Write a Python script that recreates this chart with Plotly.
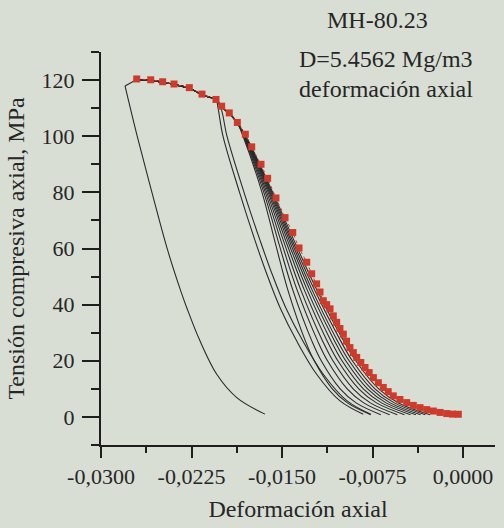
import plotly.graph_objects as go

# Red envelope curve (square markers): axial strain vs compressive stress, MPa
env_strain = [-0.02704, -0.02588, -0.02489, -0.02395, -0.02268, -0.02163, -0.02047,
              -0.02000, -0.01937, -0.01870, -0.01804, -0.01751, -0.01674, -0.01619,
              -0.01550, -0.01475, -0.01411, -0.01359, -0.01295, -0.01254, -0.01213,
              -0.01185, -0.01158, -0.01130, -0.01102, -0.01075, -0.01047, -0.01020,
              -0.00992, -0.00965, -0.00937, -0.00909, -0.00881, -0.00847, -0.00812,
              -0.00778, -0.00743, -0.00702, -0.00661, -0.00620, -0.00578, -0.00523,
              -0.00467, -0.00412, -0.00356, -0.00301, -0.00246, -0.00190, -0.00135,
              -0.00087, -0.00039]
env_stress = [120.4, 120.1, 119.4, 118.6, 117.3, 115.0, 113.1,
              110.7, 108.3, 104.9, 100.7, 96.2, 90.0, 85.0,
              78.0, 71.0, 65.7, 60.2, 55.1, 51.0, 47.4,
              44.5, 41.4, 40.0, 38.5, 36.0, 33.7, 31.5,
              29.5, 27.0, 24.7, 22.9, 21.2, 19.4, 17.6,
              15.8, 14.0, 12.2, 10.5, 9.0, 7.5, 6.2,
              5.1, 4.1, 3.3, 2.6, 2.1, 1.6, 1.2,
              1.0, 0.95]

# Upper segment shared by the black curves before they branch off
cap_strain = [-0.02704, -0.02588, -0.02489, -0.02395, -0.02268, -0.02163, -0.02047,
              -0.02000, -0.01937, -0.01870]
cap_stress = [120.2, 119.9, 119.2, 118.4, 117.1, 114.8, 112.9,
              110.5, 108.1, 104.7]

# First (leftmost) curve, starting just left of the peak
a_strain = [-0.02801, -0.02700, -0.02578, -0.02447, -0.02340,
            -0.02290, -0.02180, -0.02041, -0.01875, -0.01641]
a_stress = [117.9, 100.0, 80.0, 59.3, 45.0,
            39.0, 27.1, 15.2, 6.9, 1.0]

# Two curves branching near 110 MPa
pair_stress = [110, 100, 80, 62.9, 51, 39, 27.1, 15.2, 5.7, 0.95]
b_strain = [-0.02030, -0.01989, -0.01852, -0.01724, -0.01627, -0.01517,
            -0.01379, -0.01213, -0.01019, -0.00826]
c_strain = [-0.02006, -0.01956, -0.01815, -0.01682, -0.01583, -0.01470,
            -0.01328, -0.01158, -0.00960, -0.00764]

# Bundle of curves branching near 100 MPa
bundle_stress = [100, 80, 61, 45, 27, 20, 10, 5, 0.8]
bundle_strains = [
    [-0.01823, -0.01666, -0.01550, -0.01450, -0.01306, -0.01233, -0.01083, -0.00958, -0.00765],
    [-0.01819, -0.01651, -0.01521, -0.01409, -0.01252, -0.01175, -0.01018, -0.00886, -0.00681],
    [-0.01815, -0.01638, -0.01496, -0.01373, -0.01204, -0.01123, -0.00960, -0.00823, -0.00608],
    [-0.01812, -0.01626, -0.01474, -0.01342, -0.01163, -0.01078, -0.00910, -0.00768, -0.00544],
    [-0.01809, -0.01615, -0.01454, -0.01313, -0.01125, -0.01037, -0.00864, -0.00717, -0.00485],
    [-0.01807, -0.01606, -0.01437, -0.01289, -0.01093, -0.01003, -0.00826, -0.00675, -0.00435],
    [-0.01804, -0.01598, -0.01422, -0.01267, -0.01064, -0.00972, -0.00791, -0.00637, -0.00391],
    [-0.01803, -0.01591, -0.01408, -0.01248, -0.01039, -0.00944, -0.00760, -0.00603, -0.00352],
    [-0.01800, -0.01584, -0.01395, -0.01228, -0.01013, -0.00917, -0.00730, -0.00569, -0.00312],
    [-0.01799, -0.01577, -0.01381, -0.01209, -0.00988, -0.00889, -0.00699, -0.00535, -0.00273],
]

x_tickvals = [-0.0300, -0.0225, -0.0150, -0.0075, 0.0000]
x_ticktext = ["-0,0300", "-0,0225", "-0,0150", "-0,0075", "0,0000"]
y_tickvals = [0, 20, 40, 60, 80, 100, 120]
y_ticktext = ["0", "20", "40", "60", "80", "100", "120"]

title_lines = ["MH-80.23", "D=5.4562 Mg/m3", "deformación axial"]

BG = "#d9ded5"
INK = "#262626"
LINE = "#2a2a2a"
RED = "#cc3b2b"
FONT = "Liberation Serif, Times New Roman, Times, serif"

fig = go.Figure()

line_style = dict(color=LINE, width=1.1, shape="spline", smoothing=1)

# short straight link from the peak to the start of the first curve
fig.add_trace(go.Scatter(x=[cap_strain[0], a_strain[0]], y=[cap_stress[0], a_stress[0]],
                         mode="lines", line=dict(color=LINE, width=1.1),
                         hoverinfo="skip", showlegend=False))
fig.add_trace(go.Scatter(x=a_strain, y=a_stress, mode="lines", line=line_style,
                         hoverinfo="skip", showlegend=False))

for strains in (b_strain, c_strain):
    xs = cap_strain[:7] + strains
    ys = cap_stress[:7] + pair_stress
    fig.add_trace(go.Scatter(x=xs, y=ys, mode="lines", line=line_style,
                             hoverinfo="skip", showlegend=False))

for strains in bundle_strains:
    xs = cap_strain + strains
    ys = cap_stress + bundle_stress
    fig.add_trace(go.Scatter(x=xs, y=ys, mode="lines", line=line_style,
                             hoverinfo="skip", showlegend=False))

fig.add_trace(go.Scatter(
    x=env_strain, y=env_stress, mode="lines+markers",
    line=dict(color=RED, width=1, dash="dot"),
    marker=dict(symbol="square", size=7, color=RED, line=dict(width=0)),
    showlegend=False,
))

axis_common = dict(
    showline=True, linecolor="#1e1e1e", linewidth=2,
    ticks="outside", tickwidth=2, tickcolor="#1e1e1e",
    showgrid=False, zeroline=False,
    tickfont=dict(family=FONT, size=22, color=INK),
    title_font=dict(family=FONT, size=24, color=INK),
)

fig.update_xaxes(
    range=[-0.0300, 0.00265],
    tickvals=x_tickvals, ticktext=x_ticktext, ticklen=11,
    minor=dict(ticks="outside", tick0=-0.0300, dtick=0.00375, ticklen=6,
               tickwidth=2, tickcolor="#1e1e1e"),
    title=dict(text="Deformación axial", standoff=12),
    **axis_common,
)
fig.update_yaxes(
    range=[-10, 130],
    tickvals=y_tickvals, ticktext=y_ticktext, ticklen=17,
    ticklabelstandoff=3,
    minor=dict(ticks="outside", tick0=0, dtick=10, ticklen=8,
               tickwidth=2, tickcolor="#1e1e1e"),
    title=dict(text="Tensión compresiva axial, MPa", standoff=10),
    **axis_common,
)

label_pos = [(0.703, 1.081), (0.723, 0.982), (0.723, 0.906)]
for text, (px, py) in zip(title_lines, label_pos):
    fig.add_annotation(text=text, x=px, y=py, xref="paper", yref="paper",
                       showarrow=False, xanchor="center", yanchor="middle",
                       font=dict(family=FONT, size=24, color=INK))

fig.update_layout(
    width=504, height=528,
    margin=dict(l=101, r=9, t=52, b=83),
    paper_bgcolor=BG, plot_bgcolor=BG,
)

fig.write_html("out.html")
